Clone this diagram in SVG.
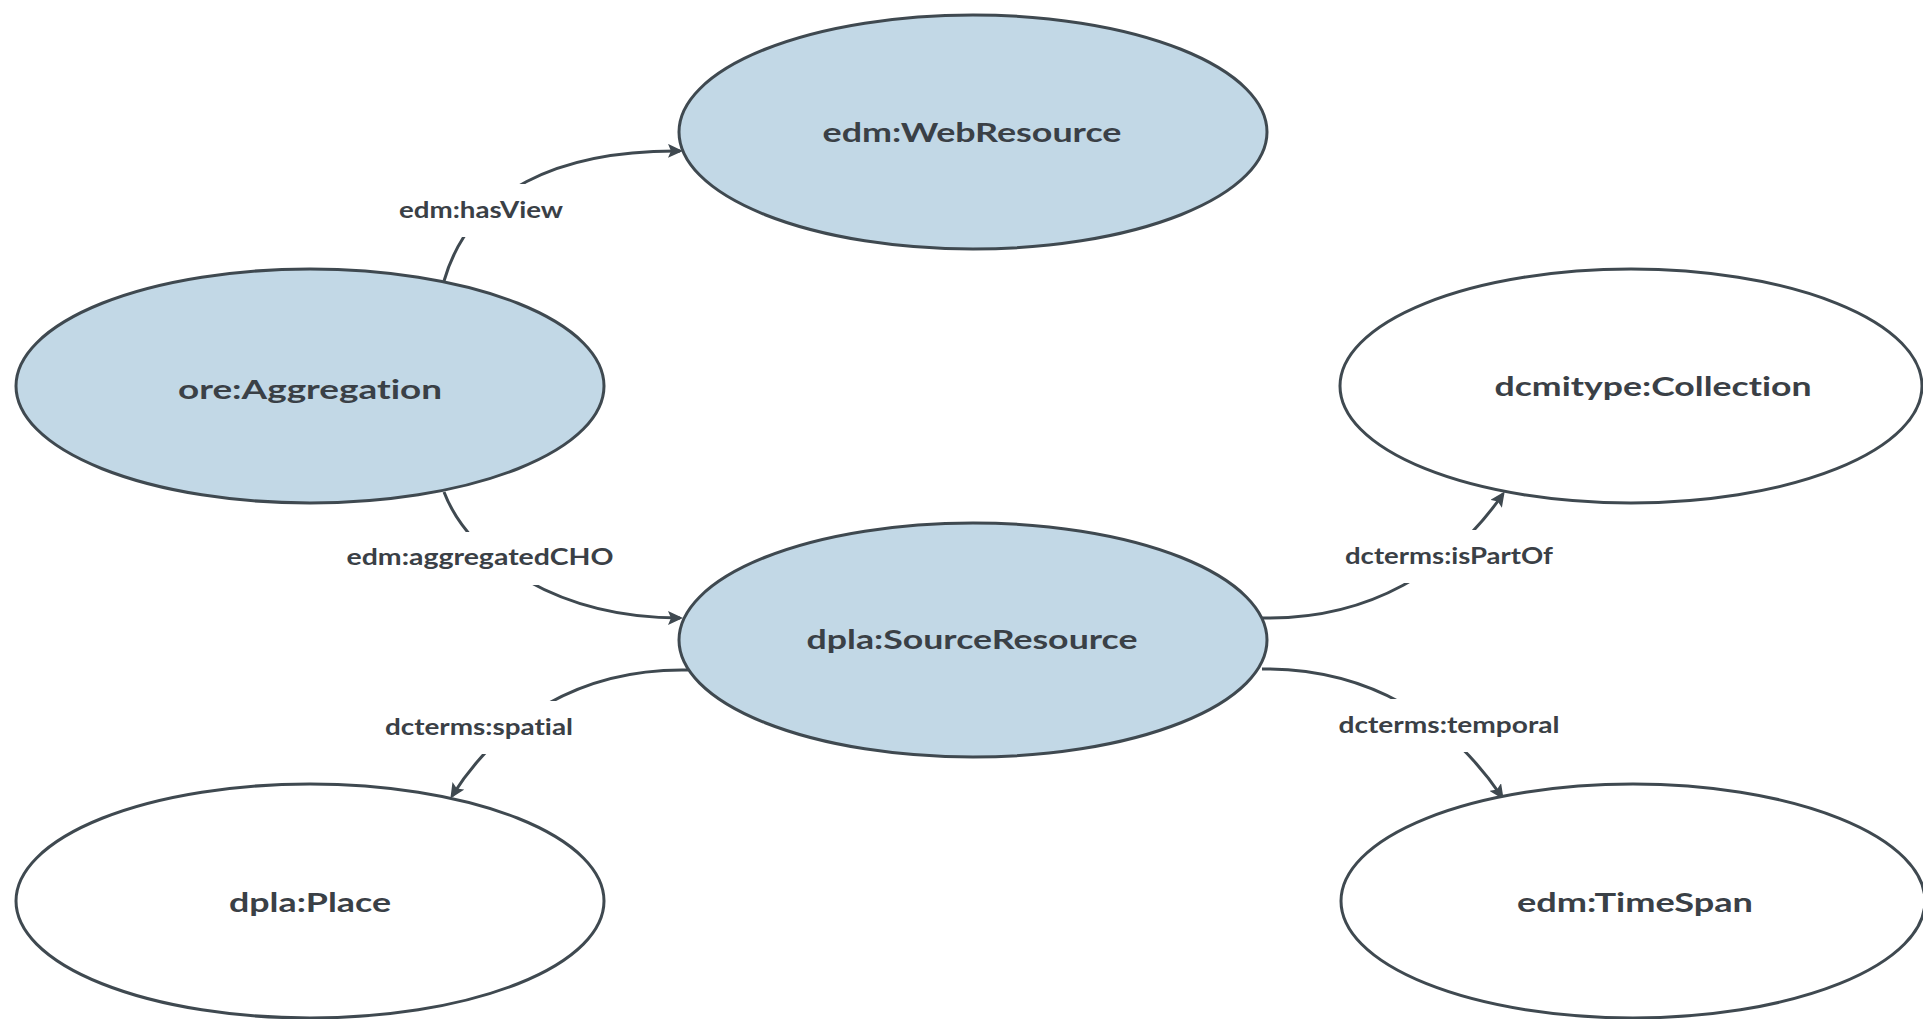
<svg xmlns="http://www.w3.org/2000/svg" width="1923" height="1019" viewBox="0 0 1923 1019">
<style>
.n{stroke:#3f4950;stroke-width:3}
.blue{fill:#c2d8e6}
.white{fill:#ffffff}
.nt{font-family:Lato,"Open Sans","Liberation Sans",sans-serif;font-weight:bold;font-size:27px;fill:#3a4046;text-anchor:middle;font-variant-ligatures:none;font-feature-settings:"liga" 0}
.et{font-family:Lato,"Open Sans","Liberation Sans",sans-serif;font-weight:bold;font-size:22px;fill:#3a4046;text-anchor:middle;font-variant-ligatures:none;font-feature-settings:"liga" 0}
.c{fill:none;stroke:#3f4950;stroke-width:3;marker-end:url(#arr)}
.bg{fill:#ffffff}
</style>
<defs>
<marker id="arr" markerWidth="15" markerHeight="14" refX="12" refY="7" orient="auto" markerUnits="userSpaceOnUse">
<path d="M0,0 L15,7 L0,14 L3,7 Z" fill="#3f4950"/>
</marker>
</defs>
<rect width="1923" height="1019" fill="#ffffff"/>
<g id="connectors">
<path class="c" d="M444,281 C470,190 560,150 680,151"/>
<path class="c" d="M444,492 C470,560 560,618 680,618"/>
<path class="c" d="M688,670 C580,668 500,720 452,796"/>
<path class="c" d="M1262,618 C1370,620 1450,570 1503,494"/>
<path class="c" d="M1262,669 C1370,668 1450,720 1502,797"/>
<rect class="bg" x="381" y="184" width="200" height="53"/>
<text class="et" x="481" y="218" textLength="164" lengthAdjust="spacingAndGlyphs">edm:hasView</text>
<rect class="bg" x="330" y="532" width="300" height="53"/>
<text class="et" x="480" y="565" textLength="267" lengthAdjust="spacingAndGlyphs">edm:aggregatedCHO</text>
<rect class="bg" x="369" y="701" width="220" height="53"/>
<text class="et" x="479" y="735" textLength="188" lengthAdjust="spacingAndGlyphs">dcterms:spatial</text>
<rect class="bg" x="1329" y="530" width="240" height="53"/>
<text class="et" x="1449" y="564" textLength="208" lengthAdjust="spacingAndGlyphs">dcterms:isPartOf</text>
<rect class="bg" x="1323" y="699" width="252" height="53"/>
<text class="et" x="1449" y="733" textLength="221" lengthAdjust="spacingAndGlyphs">dcterms:temporal</text>
</g>
<g id="edm-webresource">
<ellipse class="n blue" cx="973" cy="132" rx="294" ry="117"/>
<text class="nt" x="972" y="142" textLength="299" lengthAdjust="spacingAndGlyphs">edm:WebResource</text>
</g>
<g id="ore-aggregation">
<ellipse class="n blue" cx="310" cy="386" rx="294" ry="117"/>
<text class="nt" x="310" y="399" textLength="264" lengthAdjust="spacingAndGlyphs">ore:Aggregation</text>
</g>
<g id="dcmitype-collection">
<ellipse class="n white" cx="1631" cy="386" rx="291" ry="117"/>
<text class="nt" x="1653" y="396" textLength="317" lengthAdjust="spacingAndGlyphs">dcmitype:Collection</text>
</g>
<g id="dpla-sourceresource">
<ellipse class="n blue" cx="973" cy="640" rx="294" ry="117"/>
<text class="nt" x="972" y="649" textLength="331" lengthAdjust="spacingAndGlyphs">dpla:SourceResource</text>
</g>
<g id="dpla-place">
<ellipse class="n white" cx="310" cy="901" rx="294" ry="117"/>
<text class="nt" x="310" y="912" textLength="162" lengthAdjust="spacingAndGlyphs">dpla:Place</text>
</g>
<g id="edm-timespan">
<ellipse class="n white" cx="1633" cy="901" rx="292" ry="117"/>
<text class="nt" x="1635" y="912" textLength="236" lengthAdjust="spacingAndGlyphs">edm:TimeSpan</text>
</g>
</svg>
